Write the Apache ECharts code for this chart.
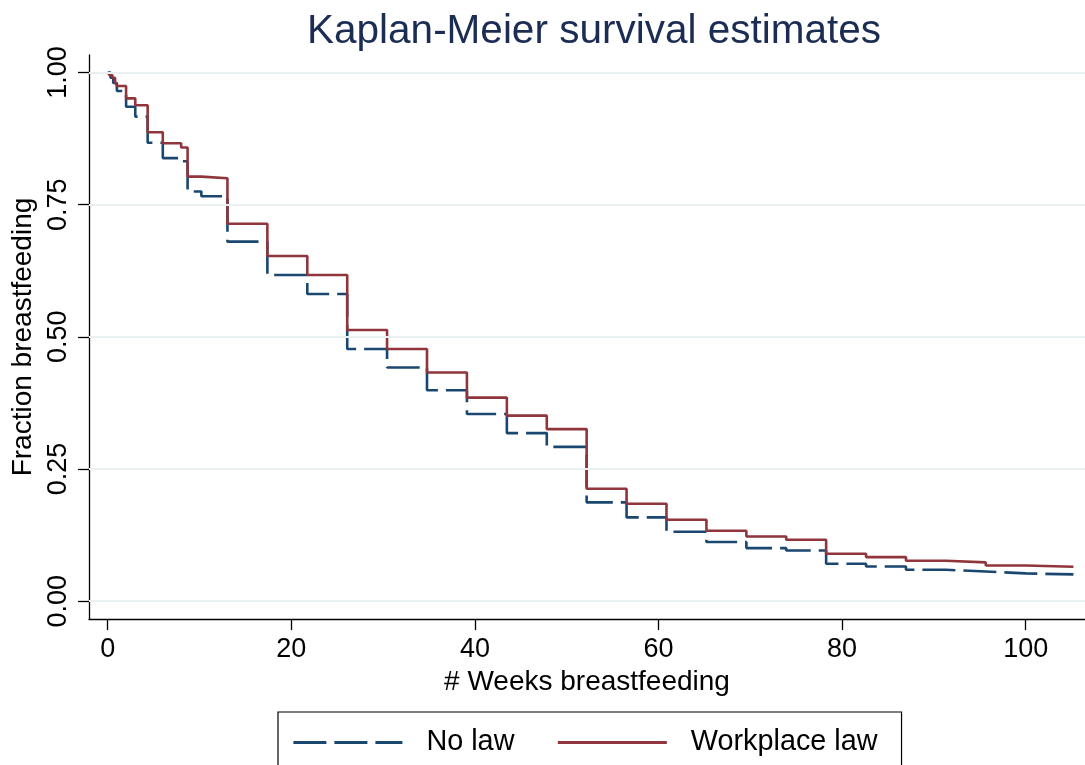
<!DOCTYPE html>
<html>
<head>
<meta charset="utf-8">
<title>Kaplan-Meier survival estimates</title>
<script src="https://cdn.jsdelivr.net/npm/echarts@6/dist/echarts.min.js"></script>
<style>
  html, body { margin: 0; padding: 0; background: #ffffff; }
  #chart { width: 1085px; height: 765px; }
</style>
</head>
<body>
<div id="chart"></div>
<script>
// Kaplan-Meier step estimates: each value holds from its week until the next listed week.
const weeksNoLaw = [0, 0.3, 0.6, 1.0, 2.0, 3.0, 4.35, 6.0, 8.0, 8.7, 10.2, 13.04, 17.39, 21.74, 26.09, 30.43, 34.78, 39.13, 43.48, 47.83, 52.17, 56.52, 60.87, 65.22, 69.57, 73.91, 78.26, 82.61, 86.96, 91.30, 95.65, 100.0, 105.2];
const survivalNoLaw = [1.0, 0.99, 0.98, 0.965, 0.935, 0.9165, 0.867, 0.838, 0.832, 0.775, 0.766, 0.680, 0.617, 0.581, 0.477, 0.442, 0.399, 0.354, 0.318, 0.292, 0.187, 0.1585, 0.1314, 0.1119, 0.1005, 0.096, 0.0709, 0.0658, 0.0595, 0.0563, 0.0526, 0.0507, 0.0507];

const weeksLaw = [0, 0.2, 0.5, 0.8, 1.0, 2.0, 3.0, 4.35, 6.0, 8.0, 8.7, 10.2, 13.04, 17.39, 21.74, 26.09, 30.43, 34.78, 39.13, 43.48, 47.83, 52.17, 56.52, 60.87, 65.22, 69.57, 73.91, 78.26, 82.61, 86.96, 91.30, 95.65, 100.0, 105.2];
const survivalLaw = [1.0, 0.995, 0.99, 0.982, 0.9745, 0.951, 0.938, 0.887, 0.866, 0.858, 0.803, 0.800, 0.714, 0.653, 0.617, 0.513, 0.477, 0.4325, 0.385, 0.351, 0.3255, 0.2127, 0.1843, 0.154, 0.1333, 0.1225, 0.1163, 0.0898, 0.0835, 0.0766, 0.0734, 0.0677, 0.0652, 0.0652];

const xTicks = [0, 20, 40, 60, 80, 100];
const yTicks = [0, 0.25, 0.5, 0.75, 1.0];
const yTickLabels = ['0.00', '0.25', '0.50', '0.75', '1.00'];

const seriesNames = ['No law', 'Workplace law'];

const FONT = "'Liberation Sans', Arial, Helvetica, sans-serif";
const NAVY = '#1a476f';
const MAROON = '#90353b';

function pairs(xs, ys) { return xs.map((x, i) => [x, ys[i]]); }

const chart = echarts.init(document.getElementById('chart'), null, { renderer: 'canvas' });

chart.setOption({
  animation: false,
  backgroundColor: '#ffffff',
  textStyle: { fontFamily: FONT },
  title: {
    text: 'Kaplan-Meier survival estimates',
    left: 589,
    top: 6,
    textAlign: 'center',
    textStyle: { fontFamily: FONT, fontSize: 40.5, fontWeight: 'normal', color: '#1c2d54' }
  },
  grid: { left: 89, right: 0, top: 55, bottom: 146, containLabel: false },
  xAxis: {
    type: 'value',
    min: -2.04,
    max: 106.46,
    name: '# Weeks breastfeeding',
    nameLocation: 'middle',
    nameGap: 47,
    nameTextStyle: { fontFamily: FONT, fontSize: 28, color: '#000' },
    axisLine: { show: true, onZero: false, lineStyle: { color: '#000', width: 1.3 } },
    axisTick: { show: true, length: 11, customValues: xTicks, lineStyle: { color: '#000', width: 1.3 } },
    axisLabel: { customValues: xTicks, margin: 17, fontFamily: FONT, fontSize: 27, color: '#000' },
    splitLine: { show: false }
  },
  yAxis: {
    type: 'value',
    min: -0.0336,
    max: 1.033,
    name: 'Fraction breastfeeding',
    nameLocation: 'middle',
    nameGap: 48,
    nameTextStyle: { fontFamily: FONT, fontSize: 28, color: '#000' },
    axisLine: { show: true, onZero: false, lineStyle: { color: '#000', width: 1.3 } },
    axisTick: { show: true, length: 11, customValues: yTicks, lineStyle: { color: '#000', width: 1.3 } },
    axisLabel: {
      customValues: yTicks,
      rotate: 90,
      margin: 17,
      fontFamily: FONT, fontSize: 27, color: '#000',
      formatter: (v) => {
        const i = yTicks.findIndex(t => Math.abs(t - v) < 1e-9);
        return i >= 0 ? yTickLabels[i] : '';
      }
    },
    splitLine: { show: false }
  },
  legend: {
    data: seriesNames,
    left: 278,
    top: 712,
    orient: 'horizontal',
    borderColor: '#000',
    borderWidth: 1.2,
    padding: [16, 24, 24, 14],
    itemWidth: 109,
    itemHeight: 2,
    itemGap: 42,
    itemStyle: { opacity: 0 },
    lineStyle: { width: 2.8 },
    textStyle: { fontFamily: FONT, fontSize: 28.8, color: '#000', padding: [0, 0, 0, 19] }
  },
  series: [
    {
      // horizontal grid lines at the y ticks
      name: 'grid',
      type: 'line',
      data: [],
      z: 1,
      silent: true,
      markLine: {
        silent: true,
        symbol: ['none', 'none'],
        label: { show: false },
        lineStyle: { color: '#e9f0f2', width: 2, type: 'solid' },
        emphasis: { disabled: true },
        data: yTicks.map(v => ({ yAxis: v }))
      }
    },
    {
      name: seriesNames[0],
      type: 'line',
      step: 'end',
      z: 3,
      showSymbol: false,
      symbol: 'none',
      color: NAVY,
      lineStyle: { color: NAVY, width: 2.6, type: [33, 8] },
      data: pairs(weeksNoLaw, survivalNoLaw)
    },
    {
      name: seriesNames[1],
      type: 'line',
      step: 'end',
      z: 4,
      showSymbol: false,
      symbol: 'none',
      color: MAROON,
      lineStyle: { color: MAROON, width: 2.6, type: 'solid' },
      data: pairs(weeksLaw, survivalLaw)
    }
  ]
});
</script>
</body>
</html>
